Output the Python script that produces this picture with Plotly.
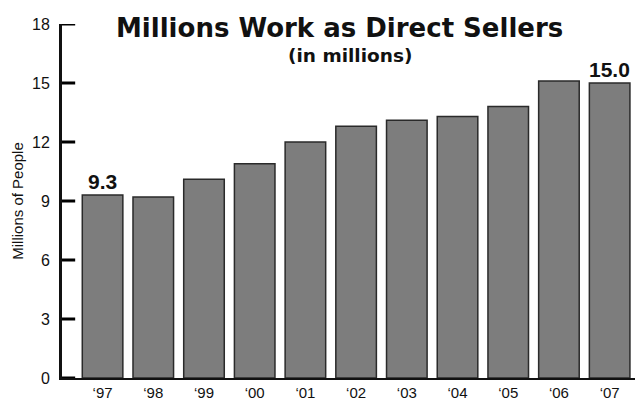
import plotly.graph_objects as go

years = ["‘97", "‘98", "‘99", "‘00", "‘01", "‘02", "‘03", "‘04", "‘05", "‘06", "‘07"]
sellers_millions = [9.3, 9.2, 10.1, 10.9, 12.0, 12.8, 13.1, 13.3, 13.8, 15.1, 15.0]
labelled_years = ["‘97", "‘07"]
y_ticks = [0, 3, 6, 9, 12, 15, 18]

fig = go.Figure()
fig.add_trace(go.Bar(
    x=years,
    y=sellers_millions,
    width=0.8,
    marker=dict(color="#7d7d7d", line=dict(color="#2a2a2a", width=1.5)),
    hoverinfo="x+y",
))

for yr in labelled_years:
    v = sellers_millions[years.index(yr)]
    fig.add_annotation(
        x=yr, y=v, text=f"<b>{v:.1f}</b>", showarrow=False,
        xanchor="center", yanchor="bottom", yshift=0,
        font=dict(family="Liberation Sans, Arial, sans-serif", size=21, color="#111"),
    )

# Short tick marks pointing into the plot from the value axis
for t in y_ticks:
    fig.add_shape(
        type="line", xref="x", yref="y",
        x0=-0.8, x1=-0.54, y0=t, y1=t,
        line=dict(color="#000000", width=3), layer="above",
    )

fig.add_annotation(
    x=0.485, y=0.99, xref="paper", yref="paper",
    text="<b>Millions Work as Direct Sellers</b>", showarrow=False,
    xanchor="center", yanchor="middle",
    font=dict(family="DejaVu Sans, Verdana, sans-serif", size=26, color="#111"),
)
fig.add_annotation(
    x=0.503, y=0.91, xref="paper", yref="paper",
    text="<b>(in millions)</b>", showarrow=False,
    xanchor="center", yanchor="middle",
    font=dict(family="DejaVu Sans, Verdana, sans-serif", size=18.5, color="#111"),
)

fig.update_layout(
    width=640, height=406,
    margin=dict(l=62, r=5, t=24, b=26),
    paper_bgcolor="white", plot_bgcolor="white",
    showlegend=False,
    bargap=0.2,
    font=dict(family="Liberation Sans, Arial, sans-serif", size=15, color="#111"),
)
fig.update_xaxes(
    range=[-0.8, 10.5],
    showline=True, linecolor="#111", linewidth=2,
    ticks="", showgrid=False, zeroline=False,
    tickfont=dict(size=15),
)
fig.update_yaxes(
    range=[0, 18], tickvals=y_ticks,
    showline=True, linecolor="#111", linewidth=3,
    ticks="", showgrid=False, zeroline=False,
    ticklabelstandoff=6,
    tickfont=dict(size=16),
    title=dict(text="Millions of People", font=dict(size=15), standoff=5),
)

fig.write_html("out.html")
